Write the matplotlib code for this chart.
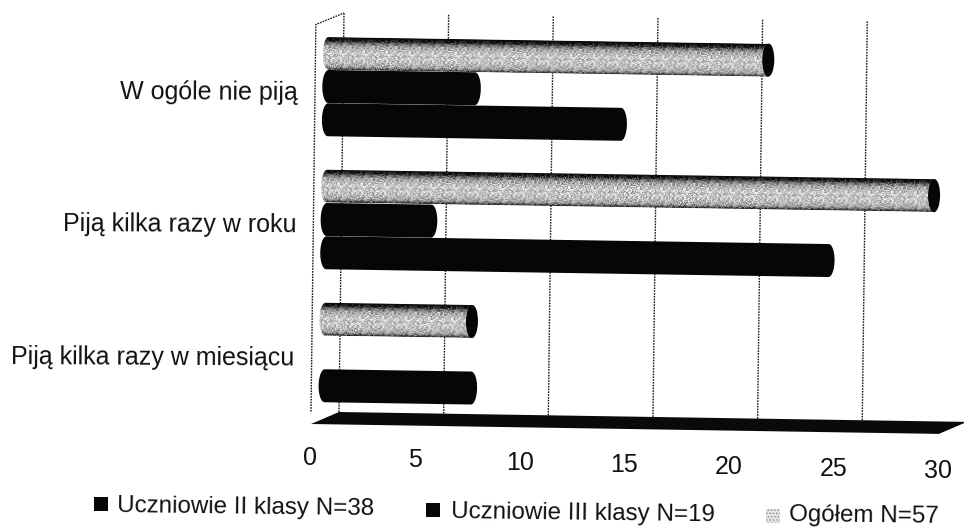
import numpy as np
import matplotlib
matplotlib.use('Agg')
import matplotlib.pyplot as plt
from matplotlib.patches import Ellipse, Polygon, Rectangle
from matplotlib.transforms import Affine2D

plt.rcParams['font.family'] = ['Liberation Sans', 'DejaVu Sans']
plt.rcParams['hatch.linewidth'] = 0.6

categories = ['Piją kilka razy w miesiącu', 'Piją kilka razy w roku', 'W ogóle nie piją']
series_names = ['Uczniowie II klasy N=38', 'Uczniowie III klasy N=19', 'Ogółem N=57']
klasa_2 = [7, 24, 14]
klasa_3 = [0, 5, 7]
ogolem = [7, 29, 21]
x_ticks = [0, 5, 10, 15, 20, 25, 30]

fig = plt.figure(figsize=(9.64, 5.27), dpi=100)
ax = fig.add_axes([0, 0, 1, 1])
ax.set_xlim(0, 964)
ax.set_ylim(527, 0)
ax.axis('off')

# the scan is a fake 3d chart and slightly rotated, so every plane gets its own affine
UNIT = 20.93
bar_tr = Affine2D.from_values(UNIT, 0.325, 1.66, -133, 325, 352.5) + ax.transData
wall_tr = Affine2D.from_values(UNIT, 0.33, 5, -399, 339, 412) + ax.transData
floor_tr = Affine2D.from_values(UNIT, 0.33, -28, 12, 339, 412) + ax.transData
tick_tr = Affine2D.from_values(UNIT, 0.45, 0, 1, 310.5, 458) + ax.transData

# gridlines and the box corner
for t in x_ticks[:-1]:
    ax.plot([t, t], [0, 1], transform=wall_tr, color='#1a1a1a', lw=1.0, ls=(0, (1.2, 0.8)), zorder=1)
ax.plot([-28 / UNIT, -28 / UNIT, 0], [0, 0.97, 1], transform=wall_tr, color='#1a1a1a', lw=1.0,
        ls=(0, (1.2, 0.8)), zorder=1)

ax.add_patch(Polygon([[0, 0], [30, 0], [30, 1], [0, 1]], closed=True, transform=floor_tr,
                     facecolor='#0a0a0a', edgecolor='none', zorder=2))

BAR_H = 0.248
CAP = 6 / UNIT


def outline(value, r):
    t = np.linspace(np.pi / 2, 3 * np.pi / 2, 24)
    left = np.column_stack([CAP * np.cos(t), r + BAR_H / 2 * np.sin(t)])
    right = np.column_stack([value + CAP * np.cos(t - np.pi), r + BAR_H / 2 * np.sin(t - np.pi)])
    return np.vstack([left, right, left[:1]])


def black_bar(value, r, z):
    ax.add_patch(Polygon(outline(value, r), closed=True, transform=bar_tr,
                         facecolor='#060606', edgecolor='none', zorder=z))


def grey_bar(value, r, z):
    rows = 33
    cols = int((value + 2 * CAP) * UNIT)
    # stipple of the scanned print, dark on the top edge of the cylinder
    level = np.interp(np.arange(rows), [0, 3, 8, 16, 26, 30, 32], [0.03, 0.15, 0.66, 0.8, 0.74, 0.55, 0.22])
    yy, xx = np.mgrid[0:rows, 0:cols]
    grain = ((xx * xx * yy + yy * yy * xx * 3 + xx * 5 + yy * 9) % 23) / 23 - 0.5
    img = np.clip(level[yy] + 0.5 * grain * (level[yy] > 0.1), 0, 1)
    im = ax.imshow(img, cmap='gray', vmin=0, vmax=1, aspect='auto', interpolation='bilinear',
                   extent=(-CAP, value + CAP, r - BAR_H / 2, r + BAR_H / 2), origin='upper',
                   transform=bar_tr, zorder=z)
    patch = Polygon(outline(value, r), closed=True, transform=bar_tr, facecolor='none', edgecolor='none')
    ax.add_patch(patch)
    im.set_clip_path(patch)
    ax.add_patch(Ellipse((value, r), 2 * CAP, BAR_H, transform=bar_tr, facecolor='#060606',
                         edgecolor='none', zorder=z + 0.1))


for i in range(len(categories)):
    if ogolem[i] > 0:
        grey_bar(ogolem[i], i + 0.25, 3 + i)
    if klasa_3[i] > 0:
        black_bar(klasa_3[i], i, 3.3 + i)
    if klasa_2[i] > 0:
        black_bar(klasa_2[i], i - 0.25, 3.6 + i)

ax.set_xlim(0, 964)
ax.set_ylim(527, 0)

for i, cat in enumerate(categories):
    ax.text(-1.45, i - 0.045, cat, transform=bar_tr, ha='right', va='center', fontsize=18, color='#111111',
            rotation=-0.3)

for t in x_ticks:
    ax.text(t, 0, str(t), transform=tick_tr, ha='center', va='center', fontsize=18, color='#111111')

# legend is not in a straight row on the scan, so placed by hand
legend_x = [101, 433, 773]
legend_y = [504, 510, 515.5]
text_x = [117, 451, 789]
text_y = [507.5, 513.5, 515.5]
for name, lx, ly, tx, ty, j in zip(series_names, legend_x, legend_y, text_x, text_y, range(3)):
    if j < 2:
        ax.add_patch(Rectangle((lx - 7, ly - 7), 14, 14, facecolor='#060606', edgecolor='none'))
    else:
        ax.add_patch(Rectangle((lx - 7, ly - 7), 14, 14, facecolor='#e4e4e4', edgecolor='#888888',
                               hatch='.....', lw=0))
    ax.text(tx, ty, name, ha='left', va='center', fontsize=17.4, color='#111111', rotation=-0.7)

fig.savefig('out.png', dpi=100)
